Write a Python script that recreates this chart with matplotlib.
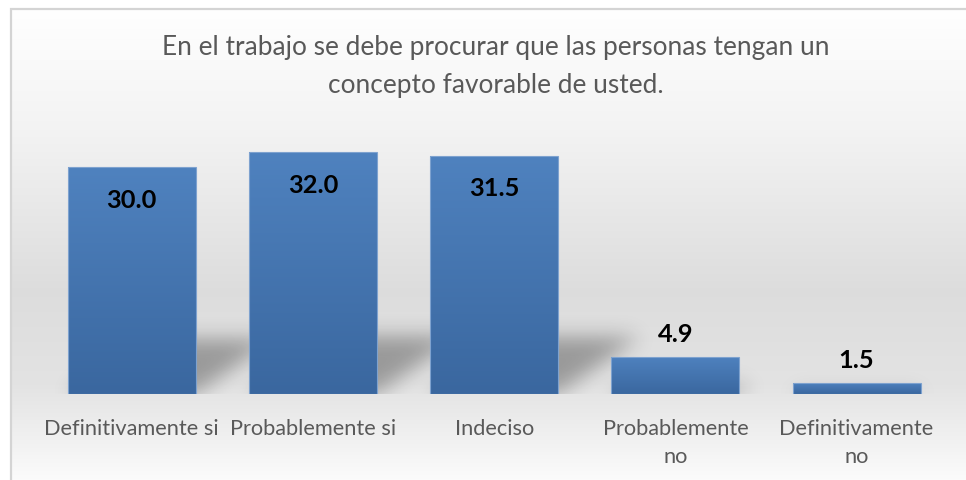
import numpy as np
import matplotlib.pyplot as plt
from matplotlib.patches import Rectangle
from matplotlib.colors import LinearSegmentedColormap

plt.rcParams['font.family'] = ['Lato', 'DejaVu Sans']

# data
categories = ['Definitivamente si', 'Probablemente si', 'Indeciso',
              'Probablemente\nno', 'Definitivamente\nno']
values = [30.0, 32.0, 31.5, 4.9, 1.5]
title = ('En el trabajo se debe procurar que las personas tengan un\n'
         'concepto favorable de usted.')

W, H = 966, 481
fig = plt.figure(figsize=(W / 100, H / 100), dpi=100)
fig.patch.set_facecolor('white')

# chart area background: vertical grey gradient inside a light frame
top_frac = 1 - 9.5 / H
bg = fig.add_axes([10.5 / W, 0, 1 - 10.5 / W, top_frac])
bg.axis('off')
stops = [0.0, 0.25, 0.6, 0.8, 1.0]          # from top of frame
greys = [1.0, 0.955, 0.865, 0.89, 0.985]
t = np.linspace(0, 1, 400)
g = np.interp(t, stops, greys)
bg_img = np.dstack([g, g, g]).reshape(400, 1, 3)
bg.imshow(bg_img, aspect='auto', extent=[0, 1, 0, 1], interpolation='bilinear')
bg.set_xlim(0, 1)
bg.set_ylim(0, 1)
fig.patches.append(Rectangle((10.5 / W, -0.02), 1.0, top_frac + 0.02,
                             transform=fig.transFigure, fill=False,
                             edgecolor='#d4d4d4', linewidth=1.6, zorder=5))

# main plot axes
ax = fig.add_axes([41.2 / W, 86 / H, 906 / W, 302.4 / H])
ax.patch.set_alpha(0)
ymax = 40
x = np.arange(len(values))
bar_w = 0.706

bars = ax.bar(x, values, width=bar_w, color='none', edgecolor='#7ea2cf',
              linewidth=0.8, zorder=3)

# gradient fill for the bars
bar_cmap = LinearSegmentedColormap.from_list('barblue', ['#3a679f', '#4f82bf'])
grad = np.linspace(0, 1, 256).reshape(-1, 1)
for b in bars:
    x0, y0 = b.get_x(), b.get_y()
    im = ax.imshow(grad, cmap=bar_cmap, aspect='auto', origin='lower',
                   extent=[x0, x0 + b.get_width(), y0, y0 + b.get_height()],
                   zorder=2.5, interpolation='bilinear')
    im.set_clip_path(b)

# soft perspective shadow behind the bars
nx, ny = 906, 302
xs = np.linspace(-0.5, 4.5, nx)
ys = np.linspace(0, ymax, ny)
XX, YY = np.meshgrid(xs, ys)
mask = np.zeros_like(XX)
k = 0.0605      # horizontal shift per unit of height
s = 0.24        # shadow height relative to bar
for xi, v in zip(x, values):
    hs = s * v
    inside = (YY >= 0) & (YY <= hs) & \
             (XX >= xi - bar_w / 2 + k * YY) & (XX <= xi + bar_w / 2 + k * YY)
    mask[inside] = 1.0


def blur(a, sigma):
    r = int(3 * sigma)
    tt = np.arange(-r, r + 1)
    kern = np.exp(-tt ** 2 / (2 * sigma ** 2))
    kern /= kern.sum()
    a = np.apply_along_axis(lambda m: np.convolve(m, kern, mode='same'), 0, a)
    a = np.apply_along_axis(lambda m: np.convolve(m, kern, mode='same'), 1, a)
    return a


shadow = blur(mask, 10) * 0.32
rgba = np.zeros((ny, nx, 4))
rgba[..., 3] = shadow
ax.imshow(rgba, extent=[-0.5, 4.5, 0, ymax], origin='lower', aspect='auto',
          zorder=1, interpolation='bilinear')

# value labels
for xi, v in zip(x, values):
    off = -32 if v > 10 else 23
    ax.annotate(f'{v:.1f}', (xi, v), xytext=(0, off), textcoords='offset pixels',
                ha='center', va='center', fontsize=18.3, fontweight='bold',
                color='black', zorder=4)

ax.set_xlim(-0.5, 4.5)
ax.set_ylim(0, ymax)
ax.set_xticks(x)
ax.set_xticklabels(categories, fontsize=15.7, color='#595959', linespacing=1.5)
ax.tick_params(axis='x', length=0, pad=17)
ax.set_yticks([])
for sp in ax.spines.values():
    sp.set_visible(False)

fig.text(496 / W, 1 - 66 / H, title, ha='center', va='center',
         fontsize=18.9, color='#595959', linespacing=1.65)

fig.savefig('out.png', dpi=100)
